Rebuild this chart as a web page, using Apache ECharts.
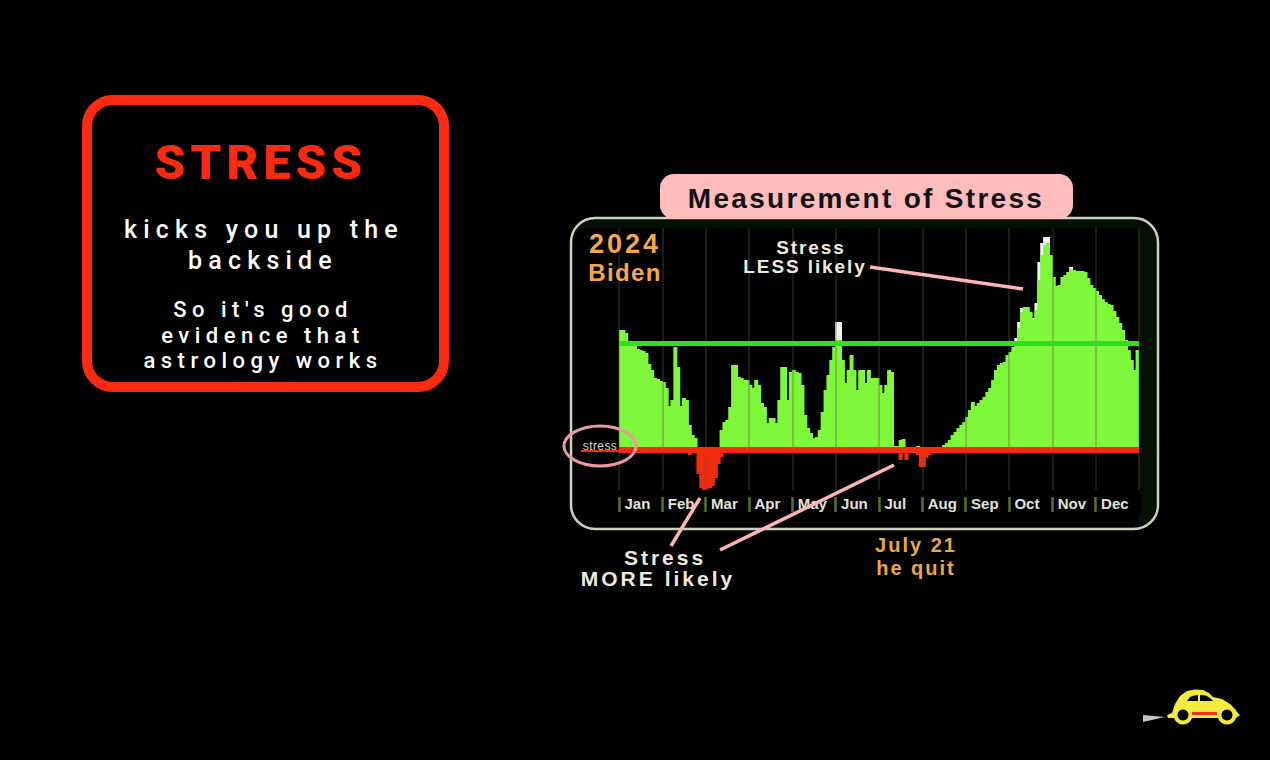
<!DOCTYPE html>
<html>
<head>
<meta charset="utf-8">
<style>
html,body{margin:0;padding:0;background:#000}
#c{width:1270px;height:760px}
text[style*="49px"]{letter-spacing:5px}
text[style*="25px"]{letter-spacing:6.2px}
text[style*="22px"]{letter-spacing:5.5px}
text[style*="28px"]{letter-spacing:2.3px}
text[style*="21px"]{letter-spacing:3px}
text[style*="20px"]{letter-spacing:2px}
text[style*="19px"]{letter-spacing:1.9px}
text[style*="27px"]{letter-spacing:3px}
text[style*="24px"]{letter-spacing:1.4px}
text[style*="12px"]{letter-spacing:.4px}
</style>
<script src="https://cdn.jsdelivr.net/npm/echarts@6/dist/echarts.min.js"></script>
</head>
<body>
<div id="c"></div>
<script>
const months = ['Jan','Feb','Mar','Apr','May','Jun','Jul','Aug','Sep','Oct','Nov','Dec'];
const samplesPerMonth = 15;

// positive readings: "stress less likely" (15 samples a month)
const lessLikely = [
  120,120,117,107,105,104,101,100,99,97,86,80,72,71,69,
  68,62,44,50,103,83,44,52,50,25,15,12,0,0,0,
  0,0,0,0,0,20,28,30,43,85,85,73,72,70,70,
  65,62,70,65,47,43,27,32,32,27,50,83,83,50,78,
  80,78,77,65,35,22,17,12,13,20,38,60,75,90,103,
  110,110,90,67,80,95,80,60,80,80,67,80,72,72,72,
  65,57,65,80,78,4,4,10,11,3,0,0,0,4,0,
  0,0,0,0,0,0,3,5,7,10,15,18,22,25,28,
  33,40,48,44,47,50,53,58,62,70,80,85,87,88,95,
  98,103,106,122,138,143,143,138,130,140,170,195,205,207,195,
  173,164,165,173,175,178,181,180,179,179,179,178,172,165,162,
  159,155,151,148,146,145,139,133,127,120,110,100,90,80,100
];
// pale upper fringe behind the green bars
const fringe = [
  0,0,0,0,0,0,0,0,0,0,0,0,0,0,0,
  0,0,0,0,0,0,0,0,0,0,0,0,0,0,0,
  0,0,0,0,0,0,0,0,0,0,0,0,0,0,0,
  0,0,0,0,0,0,0,0,0,0,0,0,0,0,0,
  0,0,0,0,0,0,0,0,0,0,0,0,0,0,0,
  128,128,0,0,0,0,0,0,0,0,0,0,0,0,0,
  0,0,0,0,0,0,0,0,0,0,0,0,0,0,0,
  0,0,0,0,0,0,0,0,0,0,0,0,0,0,0,
  0,0,0,0,0,0,0,0,0,0,0,0,0,0,0,
  0,0,112,128,142,0,0,0,132,147,188,207,213,213,0,
  0,0,0,0,0,0,183,0,0,0,0,0,0,0,0,
  0,0,0,0,0,0,0,0,0,0,0,0,0,0,0
];
// negative readings: "stress more likely"
const moreLikely = [
  0,0,0,0,0,0,0,0,0,0,0,0,0,0,0,
  0,0,0,0,0,0,0,0,0,-5,0,0,-24,-38,-40,
  -39,-38,-36,-28,-14,-7,0,0,0,0,0,0,0,0,0,
  0,0,0,0,0,0,0,0,0,0,0,0,0,0,0,
  0,0,0,0,0,0,0,0,0,0,0,0,0,0,0,
  0,0,0,0,0,0,0,0,0,0,0,0,0,0,0,
  0,0,0,0,0,0,0,-10,0,-10,0,0,0,-5,-17,
  -17,-8,-5,-3,0,0,0,0,0,0,0,0,0,0,0,
  0,0,0,0,0,0,0,0,0,0,0,0,0,0,0,
  0,0,0,0,0,0,0,0,0,0,0,0,0,0,0,
  0,0,0,0,0,0,0,0,0,0,0,0,0,0,0,
  0,0,0,0,0,0,0,0,0,0,0,0,0,0,0
];
const upperLevel = 107;
const lowerLevel = 0;

const titleText = 'Measurement of Stress';
const panelLines = [
  ['STRESS', 261, 162, '900 49px Roboto', '#fb2a10'],
  ['kicks you up the', 264, 229, '500 25px Roboto', '#ffffff'],
  ['backside', 263, 260, '500 25px Roboto', '#ffffff'],
  ["So it's good", 263, 309, '500 22px Roboto', '#ffffff'],
  ['evidence that', 263, 335, '500 22px Roboto', '#ffffff'],
  ['astrology works', 263, 360, '500 22px Roboto', '#ffffff']
];
const noteLines = [
  ['2024', 625, 244, 'bold 27px "Liberation Sans"', '#f3a94a'],
  ['Biden', 625, 272, 'bold 24px "Liberation Sans"', '#f3a94a'],
  ['Stress', 811, 247, 'bold 19px "Liberation Sans"', '#efeadf'],
  ['LESS likely', 805, 266, 'bold 19px "Liberation Sans"', '#efeadf'],
  ['Stress', 665, 557, 'bold 21px "Liberation Sans"', '#efeadf'],
  ['MORE likely', 658, 578, 'bold 21px "Liberation Sans"', '#efeadf'],
  ['July 21', 916, 545, 'bold 20px "Liberation Sans"', '#eba748'],
  ['he quit', 916, 568, 'bold 20px "Liberation Sans"', '#eba748'],
  ['stress', 600, 446, '12px "Liberation Sans"', '#d8d8d0']
];

const categories = months.flatMap(m => Array.from({length: samplesPerMonth}, (_, k) => m + ' ' + (k + 1)));
const isMonthStart = i => i % samplesPerMonth === 0;

const textEl = ([text, x, y, font, fill]) => ({
  type: 'text', z: 20,
  style: {text, x, y, font, fill, align: 'center', verticalAlign: 'middle'}
});
const pink = '#ffb4b6';
const seg = (x1, y1, x2, y2, w, c) => ({
  type: 'line', z: 20, shape: {x1, y1, x2, y2},
  style: {stroke: c || pink, lineWidth: w}
});
const yellow = '#f5ea3e';
const poly = (points, fill, z) => ({type:'polygon', z, shape:{points}, style:{fill}});

const graphics = [
  // left message panel
  {type:'rect', z:0, shape:{x:87,y:100,width:357,height:287,r:26}, style:{fill:'#000',stroke:'#fb2a10',lineWidth:10}},
  // chart frame
  {type:'rect', z:0, shape:{x:571,y:218,width:587,height:311,r:24}, style:{fill:'#041004',stroke:'#cfcfc0',lineWidth:2.5}},
  {type:'rect', z:0, shape:{x:573,y:228,width:566,height:299,r:[14,0,0,22]}, style:{fill:'#000'}},
  {type:'rect', z:1, shape:{x:660,y:174,width:413,height:45,r:14}, style:{fill:'#ffbcbc'}},
  // the axis closes with a tick at year end that the reference does not have
  {type:'rect', z:4, shape:{x:1137.5,y:494,width:4,height:20}, style:{fill:'#000'}},
  // annotations
  seg(870,267,1023,289,3.5),
  seg(700,498,671,546,3.5),
  seg(894,465,720,550,3.5),
  seg(581,451,619,451,2,'#f42b0e'),
  {type:'ellipse', z:20, shape:{cx:600,cy:446,rx:36,ry:20}, style:{fill:'none',stroke:'#e89aa0',lineWidth:3}},
  // car
  poly([[1143,715],[1165,717],[1143,722]], '#c4c4c4', 20),
  poly([[1167,715],[1172,713],[1175,704],[1180,696],[1187,691],[1195,689.5],[1203,690],[1209,693],[1213,697],[1222,699],[1230,704],[1235,709],[1237,712],[1240,715],[1236,718],[1168,718]], yellow, 20),
  {type:'circle', z:21, shape:{cx:1183,cy:715,r:9.5}, style:{fill:yellow}},
  {type:'circle', z:21, shape:{cx:1227,cy:715,r:9.5}, style:{fill:yellow}},
  {type:'circle', z:22, shape:{cx:1183,cy:715,r:5.5}, style:{fill:'#000'}},
  {type:'circle', z:22, shape:{cx:1227,cy:715,r:5.5}, style:{fill:'#000'}},
  poly([[1187,701],[1190,697],[1194,695.5],[1198,695],[1198,701]], '#000', 22),
  poly([[1200,695],[1206,695.5],[1210,698],[1213,701],[1200,701]], '#000', 22),
  {type:'rect', z:22, shape:{x:1192,y:712,width:25,height:3}, style:{fill:'#f4321c'}},
  ...panelLines.map(textEl),
  ...noteLines.map(textEl)
];

const bar = (name, data, color, extra) => Object.assign({
  name, type:'bar', data, barWidth:4, barGap:'-100%',
  itemStyle:{color}, silent:true, animation:false
}, extra);

const chart = echarts.init(document.getElementById('c'), null, {renderer:'svg', width:1270, height:760});
chart.setOption({
  backgroundColor:'#000',
  animation:false,
  title:{
    text:titleText, left:861, top:179, textAlign:'center',
    textStyle:{fontFamily:'"Liberation Sans"', fontSize:28, fontWeight:'bold', color:'#111'}, z:10
  },
  tooltip:{show:false},
  legend:{show:false},
  grid:{left:619, width:520, top:228, height:262},
  xAxis:{
    type:'category', data:categories, boundaryGap:true, offset:7, z:3,
    axisLine:{show:false, onZero:false},
    axisTick:{show:true, length:15, interval:i=>isMonthStart(i), lineStyle:{color:'#5d7022', width:2.5}},
    splitLine:{show:true, interval:i=>isMonthStart(i), lineStyle:{color:'rgba(85,95,60,0.42)', width:1.5}},
    axisLabel:{
      interval:i=>isMonthStart(i), formatter:v=>v.split(' ')[0], margin:-1,
      align:'left', padding:[0,0,0,4], color:'#e2e2dc', fontFamily:'"Liberation Sans"', fontWeight:'bold', fontSize:15
    }
  },
  yAxis:{type:'value', min:-40, max:222, show:false, splitLine:{show:false}},
  series:[
    bar('Fringe', fringe, '#f1f4e6'),
    bar('Stress less likely', lessLikely, '#7ff83c'),
    bar('Stress more likely', moreLikely, '#f42b0e', {
      markLine:{
        silent:true, symbol:'none', animation:false, label:{show:false}, z:6,
        data:[
          {yAxis:upperLevel, lineStyle:{color:'#2fe022', width:5, type:'solid'}},
          {yAxis:lowerLevel, lineStyle:{color:'#f42b0e', width:6, type:'solid'}}
        ]
      }
    })
  ],
  graphic:{elements:graphics}
});
</script>
</body>
</html>
